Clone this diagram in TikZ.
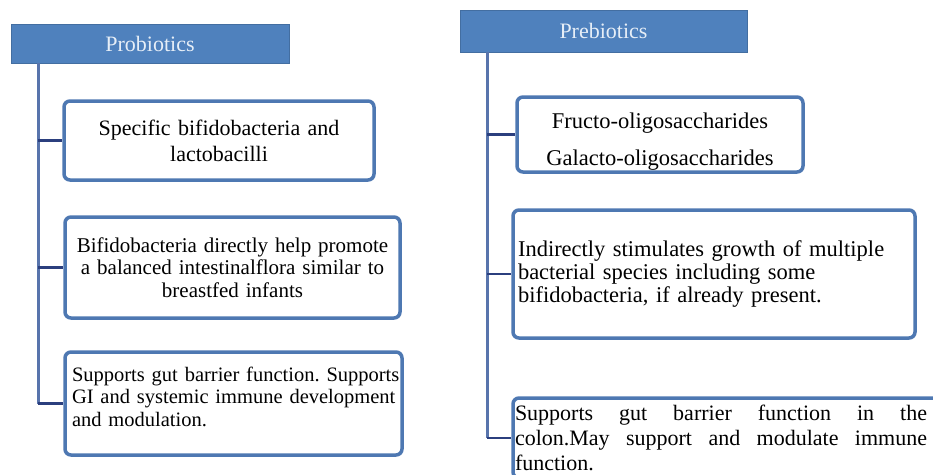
\documentclass[tikz,border=0pt]{standalone}
\usepackage{fontspec}
\setmainfont{Liberation Serif}
\frenchspacing
\definecolor{hdrblue}{HTML}{4F81BD}
\definecolor{boxblue}{HTML}{4E78B2}
\definecolor{vcol}{HTML}{5874AC}
\definecolor{hcol}{HTML}{2B3F7E}
\definecolor{hdrtext}{HTML}{E6EEF7}
\tikzset{
  hdr/.style={fill=hdrblue, draw=hdrblue!85!black, line width=0.6pt, text=hdrtext,
    font=\fontsize{22}{24}\selectfont, inner sep=0pt},
  card/.style={draw=boxblue, line width=3.5pt, fill=white, rounded corners=6pt,
    inner sep=0pt},
  vline/.style={draw=vcol, line width=3pt},
  hline/.style={draw=hcol, line width=2.2pt},
}
\begin{document}
\begin{tikzpicture}[x=1pt,y=-1pt]
\useasboundingbox (0,0) rectangle (933,474);
% headers
\node[hdr, minimum width=278pt, minimum height=39pt] (LH) at (150,43.5) {Probiotics};
\node[hdr, minimum width=287pt, minimum height=42pt] (RH) at (603.5,31) {Prebiotics};
% left boxes
\node[card, minimum width=310pt, minimum height=79pt, text width=306pt, align=center,
  font=\fontsize{22}{26}\selectfont] (L1) at (219,140.5)
  {Specific bifidobacteria and\\lactobacilli};
\node[card, minimum width=335pt, minimum height=101pt, text width=331pt, align=center,
  font=\fontsize{21}{22.5}\selectfont] (L2) at (232.5,267.5)
  {Bifidobacteria directly help promote\\a balanced intestinalflora similar to\\breastfed infants};
\node[card, minimum width=337pt, minimum height=103pt, text width=333pt, align=left,
  font=\fontsize{20.5}{22.5}\selectfont] (L3) at (233.5,403.5)
  {\mbox{\hspace*{5pt}Supports gut barrier function. Supports}\\\mbox{\hspace*{5pt}GI and systemic immune development}\\\mbox{\hspace*{5pt}and modulation.}\rule[-14pt]{0pt}{0pt}};
% right boxes
\node[card, minimum width=286pt, minimum height=75pt, text width=282pt, align=center,
  font=\fontsize{22.5}{24}\selectfont] (R1) at (660,134.5)
  {\rule{0pt}{30pt}Fructo-oligosaccharides\\[13pt]Galacto-oligosaccharides};
\node[card, minimum width=402pt, minimum height=128pt, text width=392pt, align=left,
  font=\fontsize{22.5}{23}\selectfont] (R2) at (714,274)
  {Indirectly stimulates growth of multiple\\bacterial species including some\\bifidobacteria, if already present.};
\node[card, minimum width=430pt, minimum height=80pt, font=\fontsize{22}{25}\selectfont] (R3) at (728,438)
  {\parbox{412pt}{\hbox to 412pt{Supports\hfill gut\hfill barrier\hfill function\hfill in\hfill the}%
   \hbox to 412pt{colon.May\hfill support\hfill and\hfill modulate\hfill immune}%
   \hbox{function.}}\hspace*{14pt}};
% connectors
\coordinate (LT) at (38,63);
\coordinate (RT) at (487,52);
\draw[vline] (LT) -- (LT |- L3.west);
\draw[vline] (RT) -- (RT |- R3.west);
\draw[hline] (LT |- L1.west) -- (L1.west);
\draw[hline] (LT |- L2.west) -- (L2.west);
\draw[hline] (LT |- L3.west) -- (L3.west);
\draw[hline] (RT |- R1.west) -- (R1.west);
\draw[hline] (RT |- R2.west) -- (R2.west);
\draw[hline] (RT |- R3.west) -- (R3.west);
\end{tikzpicture}
\end{document}
